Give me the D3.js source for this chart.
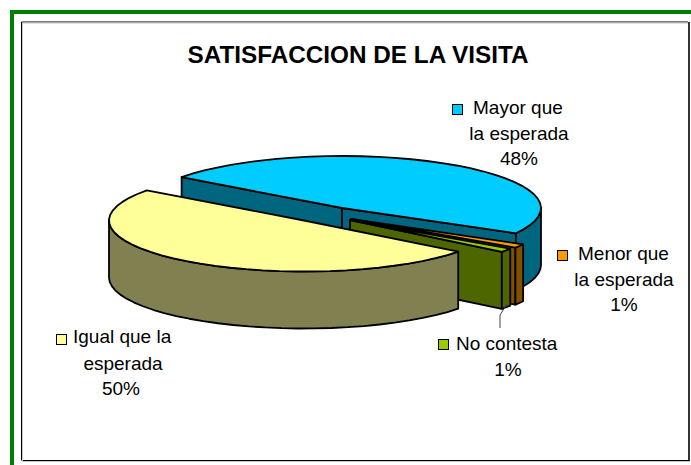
<!DOCTYPE html>
<html>
<head>
<meta charset="utf-8">
<script src="https://cdn.jsdelivr.net/npm/d3@7"></script>
<style>
html,body{margin:0;padding:0;background:#fff;overflow:hidden}
svg{display:block}
text{font-family:"Liberation Sans",Arial,sans-serif;fill:#000}
</style>
</head>
<body>
<svg id="c" width="691" height="465"></svg>
<script>
// Data, in drawing order (clockwise from the pie's start angle)
const categories = ["Mayor que la esperada", "Menor que la esperada", "No contesta", "Igual que la esperada"];
const values = [48, 1.2, 1.2, 49.6];
const percentLabels = ["48%", "1%", "1%", "50%"];
const topColors = ["#00ccff", "#ff9900", "#99cc00", "#ffff99"];
const wallColors = ["#006680", "#805000", "#4d6600", "#808050"];
const titleText = "SATISFACCION DE LA VISITA";

// Layout
const rad = Math.PI / 180;
const startDeg = -53.7;
const depth = 57;
const geometry = [
  {cx: 342, cy: 208, rx: 199, ry: 52},
  {cx: 351, cy: 219, rx: 197, ry: 52},
  {cx: 350, cy: 220, rx: 192, ry: 52},
  {cx: 304, cy: 220.5, rx: 195, ry: 51}
];
const labelLayout = [
  {swatch: [452, 104], lines: [{t: "Mayor que", x: 473, y: 114, a: "start"}, {t: "la esperada", x: 519, y: 140, a: "middle"}, {pct: true, x: 519, y: 165, a: "middle"}]},
  {swatch: [557, 250], lines: [{t: "Menor que", x: 578, y: 260, a: "start"}, {t: "la esperada", x: 624, y: 286, a: "middle"}, {pct: true, x: 624, y: 311, a: "middle"}]},
  {swatch: [438, 339], lines: [{t: "No contesta", x: 456, y: 350, a: "start"}, {pct: true, x: 508, y: 376, a: "middle"}]},
  {swatch: [56, 334], lines: [{t: "Igual que la", x: 73, y: 343, a: "start"}, {t: "esperada", x: 123, y: 370, a: "middle"}, {pct: true, x: 121, y: 395, a: "middle"}]}
];

const svg = d3.select("#c");

// Outer frames
svg.append("rect").attr("x", 10).attr("y", 10).attr("width", 681).attr("height", 4).attr("fill", "#008000");
svg.append("rect").attr("x", 10).attr("y", 10).attr("width", 4).attr("height", 455).attr("fill", "#008000");
svg.append("path").attr("d", "M22,461.5H690").attr("stroke", "#c8c8c8").attr("stroke-width", 1).attr("fill", "none");
svg.append("path").attr("d", "M689,22V461").attr("stroke", "#333").attr("stroke-width", 2).attr("fill", "none");
svg.append("path").attr("d", "M21.5,460.5V22H688").attr("stroke", "#000").attr("stroke-width", 1).attr("fill", "none");
svg.append("path").attr("d", "M22,460.5H689").attr("stroke", "#000").attr("stroke-width", 1).attr("fill", "none");
svg.append("path").attr("d", "M22.5,461V23H688").attr("stroke", "#c8c8c8").attr("stroke-width", 1).attr("fill", "none");

// Title
svg.append("text").attr("x", 358).attr("y", 63).attr("text-anchor", "middle")
  .attr("font-size", 24.3).attr("font-weight", "bold").text(titleText);

// Pie
const pie = d3.pie().sort(null).startAngle(startDeg * rad).endAngle(startDeg * rad + 2 * Math.PI);
const arcs = pie(values);
const line = d3.line();
const pt = (g, a, dy = 0) => [g.cx + g.rx * Math.sin(a), g.cy - g.ry * Math.cos(a) + dy];
const arcPts = (g, a0, a1, dy = 0) => {
  const n = Math.max(2, Math.ceil((a1 - a0) / (5 * rad)));
  return d3.range(n + 1).map(i => pt(g, a0 + (a1 - a0) * i / n, dy));
};
const gPie = svg.append("g").attr("stroke", "#000").attr("stroke-width", 1.8).attr("stroke-linejoin", "round");

arcs.forEach((d, i) => {
  const g = geometry[i];
  const a0 = d.startAngle, a1 = d.endAngle;
  const c = [g.cx, g.cy], cb = [g.cx, g.cy + depth];
  const wall = wallColors[i];
  // flat cut faces that turn toward the viewer
  if (Math.sin(a0) < 0) {
    gPie.append("path").attr("fill", wall)
      .attr("d", line([c, pt(g, a0), pt(g, a0, depth), cb]) + "Z");
  }
  if (Math.sin(a1) > 0) {
    gPie.append("path").attr("fill", wall)
      .attr("d", line([c, pt(g, a1), pt(g, a1, depth), cb]) + "Z");
  }
  // outer rim, front half only
  const w0 = Math.max(a0, 90 * rad), w1 = Math.min(a1, 270 * rad);
  if (w1 > w0) {
    const pts = arcPts(g, w0, w1).concat(arcPts(g, w0, w1, depth).reverse());
    gPie.append("path").attr("fill", wall).attr("d", line(pts) + "Z");
  }
  // top
  gPie.append("path").attr("fill", topColors[i])
    .attr("d", line([c].concat(arcPts(g, a0, a1))) + "Z");
});

// Leader line for "No contesta"
svg.append("path").attr("d", line([[507, 304], [500, 315], [500, 328]]))
  .attr("fill", "none").attr("stroke", "#444").attr("stroke-width", 1);

// Labels
labelLayout.forEach((l, i) => {
  svg.append("rect").attr("x", l.swatch[0] + 0.5).attr("y", l.swatch[1] + 0.5)
    .attr("width", 10).attr("height", 10).attr("fill", topColors[i])
    .attr("stroke", "#000").attr("stroke-width", 1);
  l.lines.forEach(t => {
    svg.append("text").attr("x", t.x).attr("y", t.y).attr("text-anchor", t.a)
      .attr("font-size", 19).text(t.pct ? percentLabels[i] : t.t);
  });
});
</script>
</body>
</html>
